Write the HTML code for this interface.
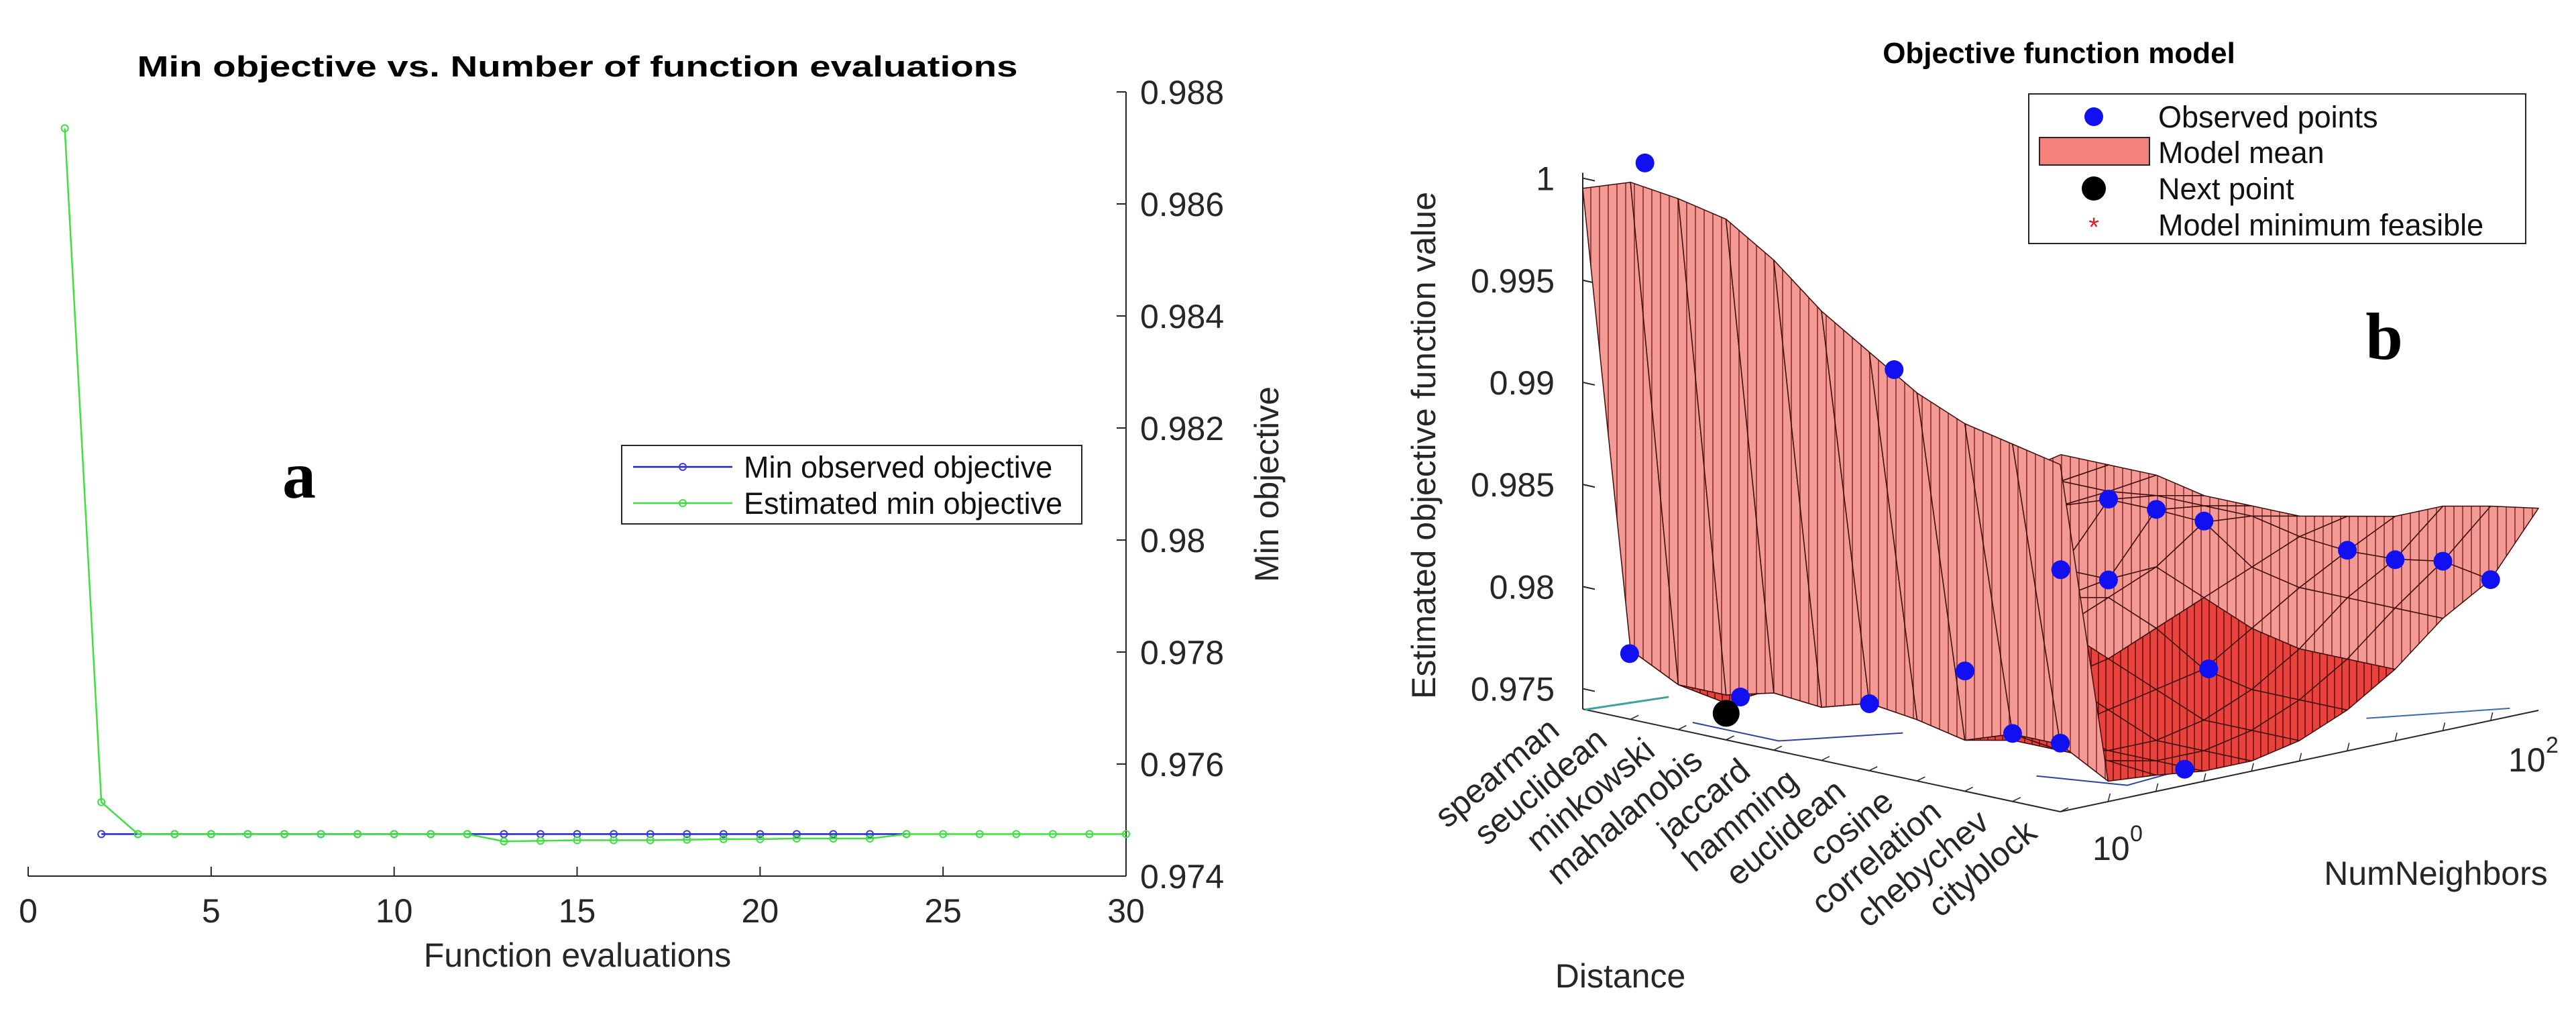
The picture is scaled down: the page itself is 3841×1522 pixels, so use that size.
<!DOCTYPE html>
<html><head><meta charset="utf-8"><style>
html,body{margin:0;padding:0;background:#fff;}
svg{display:block;font-family:"Liberation Sans",Arial,sans-serif;}
</style></head><body>
<svg id="fig" width="3841" height="1522" viewBox="0 0 3841 1522" xmlns="http://www.w3.org/2000/svg">
<defs>
<pattern id="hatch" width="13" height="40" patternUnits="userSpaceOnUse">
<rect width="13" height="40" fill="#f39a94"/>
<line x1="6" y1="0" x2="6" y2="40" stroke="#8a2c2a" stroke-width="1.6"/>
</pattern>
<pattern id="hatch2" width="11" height="40" patternUnits="userSpaceOnUse">
<rect width="11" height="40" fill="#e8423c"/>
<line x1="5" y1="0" x2="5" y2="40" stroke="#6a1010" stroke-width="1.6"/>
</pattern>
</defs>
<g id="left"></g>
<g id="right"></g>
</svg>
<script>
// ---------- Chart A data ----------
const evalsBlue = [2,3,4,5,6,7,8,9,10,11,12,13,14,15,16,17,18,19,20,21,22,23,24];
const blueVals = [0.97475,0.97475,0.97475,0.97475,0.97475,0.97475,0.97475,0.97475,0.97475,0.97475,0.97475,0.97475,0.97475,0.97475,0.97475,0.97475,0.97475,0.97475,0.97475,0.97475,0.97475,0.97475,0.97475];
const evalsGreen = [1,2,3,4,5,6,7,8,9,10,11,12,13,14,15,16,17,18,19,20,21,22,23,24,25,26,27,28,29,30];
const greenVals = [0.98735,0.97532,0.97475,0.97475,0.97475,0.97475,0.97475,0.97475,0.97475,0.97475,0.97475,0.97475,0.97462,0.97463,0.97464,0.97464,0.97464,0.97465,0.97466,0.97466,0.97467,0.97467,0.97467,0.97475,0.97475,0.97475,0.97475,0.97475,0.97475,0.97475];
const xTicksA = [0,5,10,15,20,25,30];
const yTicksA = [0.974,0.976,0.978,0.98,0.982,0.984,0.986,0.988];
const yTickLabelsA = ["0.974","0.976","0.978","0.98","0.982","0.984","0.986","0.988"];

// ---------- Chart B data ----------
const distanceCats = ["spearman","seuclidean","minkowski","mahalanobis","jaccard","hamming","euclidean","cosine","correlation","chebychev","cityblock"];
const surfRow0 = [0.9995,0.9764,0.9762,0.9765,0.9772,0.978,0.979,0.9798,0.9805,0.981,0.9815];
const surfRow1 = [1.0003,0.9752,0.9738,0.9745,0.9765,0.9778,0.979,0.980,0.9808,0.9812,0.9815];
const surfRow2 = [1.0,0.9752,0.975,0.975,0.9765,0.978,0.979,0.9805,0.981,0.9812,0.9815];
const surfRow3 = [0.9995,0.9758,0.9755,0.9755,0.977,0.978,0.9785,0.9789,0.9818,0.9815,0.981];
const surfRow4 = [0.998,0.9756,0.9753,0.9755,0.9765,0.978,0.9785,0.9789,0.9818,0.9815,0.981];
const surfRow5 = [0.996,0.9763,0.9765,0.9769,0.9772,0.978,0.979,0.98,0.9817,0.9815,0.981];
const surfRow6 = [0.9945,0.976,0.976,0.976,0.9765,0.977,0.978,0.979,0.98,0.981,0.9815];
const surfRow7 = [0.993,0.9755,0.975,0.975,0.9755,0.976,0.9765,0.978,0.9795,0.9808,0.982];
const surfRow8 = [0.992,0.9763,0.975,0.9745,0.9745,0.975,0.976,0.9775,0.9795,0.9809,0.983];
const surfRow9 = [0.9915,0.9763,0.975,0.9745,0.9745,0.975,0.976,0.9775,0.9795,0.9813,0.9835];
const surfRow10 = [0.991,0.975,0.9748,0.9745,0.9745,0.975,0.976,0.9775,0.9795,0.9809,0.9839];
const surface = [surfRow0,surfRow1,surfRow2,surfRow3,surfRow4,surfRow5,surfRow6,surfRow7,surfRow8,surfRow9,surfRow10];
const obsDist = [0,6,0,2,4,5,8,9,10,3,4,5,3,4,7,7,8,9,10];
const obsNeigh = [0.13,0.052,0.098,0.13,0.2,0.3,0.1,0.1,0.26,0.8,0.8,0.8,0.7,0.7,0.61,0.9,0.9,0.9,0.9];
const obsVal = [1.0001,0.99338,0.97623,0.97495,0.97528,0.97689,0.97633,0.97636,0.97479,0.98182,0.98182,0.98175,0.97886,0.97886,0.97646,0.98083,0.98087,0.9813,0.9809];
const nextDist = [1];
const nextNeigh = [0.2];
const nextVal = [0.9733];
const zTicks = [0.975,0.98,0.985,0.99,0.995,1];
const zTickLabels = ["0.975","0.98","0.985","0.99","0.995","1"];

const NS = "http://www.w3.org/2000/svg";
function mk(parent, tag, attrs, text){
  const e = document.createElementNS(NS, tag);
  for (const k in attrs) e.setAttribute(k, attrs[k]);
  if (text !== undefined) e.textContent = text;
  parent.appendChild(e);
  return e;
}

// ===== Chart A =====
(function(){
  const g = document.getElementById('left');
  const X0 = 42, X1 = 1679, Y0 = 1306, Y1 = 137;
  const xs = v => X0 + (v - 0) / 30 * (X1 - X0);
  const ys = v => Y0 - (v - 0.974) / (0.988 - 0.974) * (Y0 - Y1);
  let t = mk(g,'text',{x:861,y:114,'text-anchor':'middle','font-size':44,'font-weight':'bold',textLength:1313,lengthAdjust:'spacingAndGlyphs'},'Min objective vs. Number of function evaluations');
  
  
  let ax = mk(g,'line',{x1:X0,y1:Y0,x2:X1,y2:Y0,stroke:'#262626','stroke-width':2});
  
  
  let ay = mk(g,'line',{x1:X1,y1:Y0,x2:X1,y2:Y1,stroke:'#262626','stroke-width':2});
  
  
  xTicksA.forEach(v=>{
    mk(g,'line',{x1:xs(v),y1:Y0,x2:xs(v),y2:Y0-14,stroke:'#262626','stroke-width':2});
    const l = mk(g,'text',{x:xs(v),y:1375,'text-anchor':'middle','font-size':50,fill:'#262626'},String(v));
    
    
  });
  yTicksA.forEach((v,i)=>{
    mk(g,'line',{x1:X1,y1:ys(v),x2:X1-14,y2:ys(v),stroke:'#262626','stroke-width':2});
    const l = mk(g,'text',{x:1700,y:ys(v)+18,'font-size':50,fill:'#262626'},yTickLabelsA[i]);
    
    
  });
  let xl = mk(g,'text',{x:861,y:1441,'text-anchor':'middle','font-size':50,fill:'#262626'},'Function evaluations');
  
  
  let yl = mk(g,'text',{x:0,y:0,'text-anchor':'middle','font-size':50,fill:'#262626',transform:'translate(1906,722) rotate(-90)'},'Min objective');
  
  
  const bpts = evalsBlue.map((e,i)=>xs(e)+','+ys(blueVals[i])).join(' ');
  const gpts = evalsGreen.map((e,i)=>xs(e)+','+ys(greenVals[i])).join(' ');
  let bl = mk(g,'polyline',{points:bpts,fill:'none',stroke:'#2525c8','stroke-width':2.5});
  
  
  evalsBlue.forEach((e,i)=>{
    const c = mk(g,'circle',{cx:xs(e),cy:ys(blueVals[i]),r:5,fill:'none',stroke:'#3a3ad8','stroke-width':2});
    
    
  });
  let gl = mk(g,'polyline',{points:gpts,fill:'none',stroke:'#3ee03e','stroke-width':2.5});
  
  
  evalsGreen.forEach((e,i)=>{
    const c = mk(g,'circle',{cx:xs(e),cy:ys(greenVals[i]),r:5,fill:'none',stroke:'#3ee03e','stroke-width':2});
    
    
  });
  let lg = mk(g,'g',{});
  
  
  mk(lg,'rect',{x:927,y:664,width:686,height:117,fill:'#fff',stroke:'#262626','stroke-width':2});
  mk(lg,'line',{x1:944,y1:696,x2:1092,y2:696,stroke:'#2525c8','stroke-width':2.5});
  mk(lg,'circle',{cx:1018,cy:696,r:5,fill:'none',stroke:'#3a3ad8','stroke-width':2});
  mk(lg,'line',{x1:944,y1:750,x2:1092,y2:750,stroke:'#3ee03e','stroke-width':2.5});
  mk(lg,'circle',{cx:1018,cy:750,r:5,fill:'none',stroke:'#3ee03e','stroke-width':2});
  let e1 = mk(lg,'text',{x:1109,y:712,'font-size':45,fill:'#111'},'Min observed objective');
  
  
  let e2 = mk(lg,'text',{x:1109,y:766,'font-size':45,fill:'#111'},'Estimated min objective');
  
  
  let pa = mk(g,'text',{x:446,y:742,'text-anchor':'middle','font-size':100,'font-weight':'bold','font-family':'"Liberation Serif",serif'},'a');
  
  
})();

// ===== Chart B =====
(function(){
  const g = document.getElementById('right');
  const OX = 3072, OY = 1210;
  const DX = 71.2, DY = 15.3, NX = 713, NY = 151, ZS = 30440;
  const px = (i,t) => OX - (10-i)*DX + t*NX;
  const py = (i,t,z) => OY - (10-i)*DY - t*NY - (z-0.974)*ZS;
  const cols = surface[0].length;
  const tOf = j => j/(cols-1);

  let t = mk(g,'text',{x:3070,y:94,'text-anchor':'middle','font-size':44,'font-weight':'bold'},'Objective function model');
  
  

  const axc = '#262626';
  const zx = px(0,0);
  let za = mk(g,'line',{x1:zx,y1:py(0,0,0.974),x2:zx,y2:py(0,0,1.0)-8,stroke:axc,'stroke-width':2});
  
  
  let da = mk(g,'line',{x1:px(0,0),y1:py(0,0,0.974),x2:px(10,0),y2:py(10,0,0.974),stroke:axc,'stroke-width':2});
  
  
  let na = mk(g,'line',{x1:px(10,0),y1:py(10,0,0.974),x2:px(10,1),y2:py(10,1,0.974),stroke:axc,'stroke-width':2});
  
  
  zTicks.forEach((v,i)=>{
    const y = py(0,0,v);
    mk(g,'line',{x1:zx,y1:y,x2:zx+18,y2:y+4,stroke:axc,'stroke-width':2});
    const l = mk(g,'text',{x:zx-42,y:y+18,'text-anchor':'end','font-size':50,fill:'#262626'},zTickLabels[i]);
    
    
  });
  for(let k=1;k<=10;k++){
    mk(g,'line',{x1:px(k,0),y1:py(k,0,0.974),x2:px(k,0)+12,y2:py(k,0,0.974)-6,stroke:axc,'stroke-width':1.5});
  }
  mk(g,'polyline',{points:[px(1.8,0.05)+','+py(1.8,0.05,0.974),px(3.6,0.05)+','+py(3.6,0.05,0.974),px(4.5,0.22)+','+py(4.5,0.22,0.974)].join(' '),fill:'none',stroke:'#3040a0','stroke-width':2});
  mk(g,'polyline',{points:[px(8,0.15)+','+py(8,0.15,0.974),px(9.4,0.2)+','+py(9.4,0.2,0.974),px(9,0.5)+','+py(9,0.5,0.974)].join(' '),fill:'none',stroke:'#3040a0','stroke-width':2});
  mk(g,'polyline',{points:[px(8.6,0.78)+','+py(8.6,0.78,0.974),px(9.6,0.98)+','+py(9.6,0.98,0.974)].join(' '),fill:'none',stroke:'#3a6ab0','stroke-width':2});
  mk(g,'line',{x1:px(0.05,0),y1:py(0.05,0,0.974),x2:px(0.3,0.15),y2:py(0.3,0.15,0.974),stroke:'#40a0a0','stroke-width':3});
  for(let k=1;k<10;k++){
    const tt = k/10;
    mk(g,'line',{x1:px(10,tt),y1:py(10,tt,0.974),x2:px(10,tt)+3,y2:py(10,tt,0.974)-12,stroke:axc,'stroke-width':1.5});
  }

  const quads = [];
  for(let i=0;i<surface.length-1;i++){
    for(let j=0;j<cols-1;j++){
      quads.push({i:i,j:j,depth:(i+0.5)/10 - tOf(j+0.5)});
    }
  }
  quads.sort((a,b)=>a.depth-b.depth);
  const sg = mk(g,'g',{});
  
  
  quads.forEach(q=>{
    const i=q.i,j=q.j;
    const corners=[[i,j],[i+1,j],[i+1,j+1],[i,j+1]];
    const pts = corners.map(c=>px(c[0],tOf(c[1]))+','+py(c[0],tOf(c[1]),surface[c[0]][c[1]])).join(' ');
    const zmean = (surface[i][j]+surface[i+1][j]+surface[i+1][j+1]+surface[i][j+1])/4;
    const slope = Math.abs(surface[i][j+1]-surface[i][j]);
    const fill = (j>0 && zmean<0.978 && slope<0.003) ? 'url(#hatch2)' : 'url(#hatch)';
    const p = mk(sg,'polygon',{points:pts,fill:fill,stroke:'#3a0c0c','stroke-width':1.5,'stroke-linejoin':'round'});
    
    
  });
  obsDist.forEach((d,k)=>{
    const c = mk(g,'circle',{cx:px(d,obsNeigh[k]),cy:py(d,obsNeigh[k],obsVal[k]),r:14,fill:'#1010f0'});
    
    
  });
  nextDist.forEach((d,k)=>{
    const c = mk(g,'circle',{cx:px(d,nextNeigh[k]),cy:py(d,nextNeigh[k],nextVal[k]),r:20,fill:'#000'});
    
    
  });
  distanceCats.forEach((name,i)=>{
    const x = px(i,0)-32, y = py(i,0,0.974)+36;
    const l = mk(g,'text',{x:0,y:0,'text-anchor':'end','font-size':50,fill:'#262626',transform:'translate('+x+','+y+') rotate(-40)'},name);
    
    
  });
  let n0 = mk(g,'text',{x:3120,y:1282,'font-size':50,fill:'#262626'},'10');
  
  
  mk(g,'text',{x:3176,y:1254,'font-size':34,fill:'#262626'},'0');
  let n2 = mk(g,'text',{x:3740,y:1150,'font-size':50,fill:'#262626'},'10');
  
  
  mk(g,'text',{x:3796,y:1122,'font-size':34,fill:'#262626'},'2');
  let dl = mk(g,'text',{x:2416,y:1472,'text-anchor':'middle','font-size':50,fill:'#262626'},'Distance');
  
  
  let nl = mk(g,'text',{x:3632,y:1319,'text-anchor':'middle','font-size':50,fill:'#262626'},'NumNeighbors');
  
  
  let zl = mk(g,'text',{x:0,y:0,'text-anchor':'middle','font-size':50,fill:'#262626',transform:'translate(2140,664) rotate(-90)'},'Estimated objective function value');
  
  
  const lg = mk(g,'g',{});
  
  
  mk(lg,'rect',{x:3025,y:140,width:741,height:223,fill:'#fff',stroke:'#262626','stroke-width':2});
  mk(lg,'circle',{cx:3122,cy:174,r:14,fill:'#1010f0'});
  mk(lg,'rect',{x:3041,y:205,width:164,height:41,fill:'#f4817c',stroke:'#262626','stroke-width':2});
  mk(lg,'circle',{cx:3122,cy:281,r:18,fill:'#000'});
  mk(lg,'text',{x:3122,y:352,'text-anchor':'middle','font-size':40,fill:'#e02020'},'*');
  const labels = ['Observed points','Model mean','Next point','Model minimum feasible'];
  const ys = [190,243,297,351];
  labels.forEach((s,k)=>{
    const l = mk(lg,'text',{x:3218,y:ys[k],'font-size':45,fill:'#111'},s);
    
    
  });
  let pb = mk(g,'text',{x:3555,y:535,'text-anchor':'middle','font-size':100,'font-weight':'bold','font-family':'"Liberation Serif",serif'},'b');
  
  
})();
</script>
</body></html>
